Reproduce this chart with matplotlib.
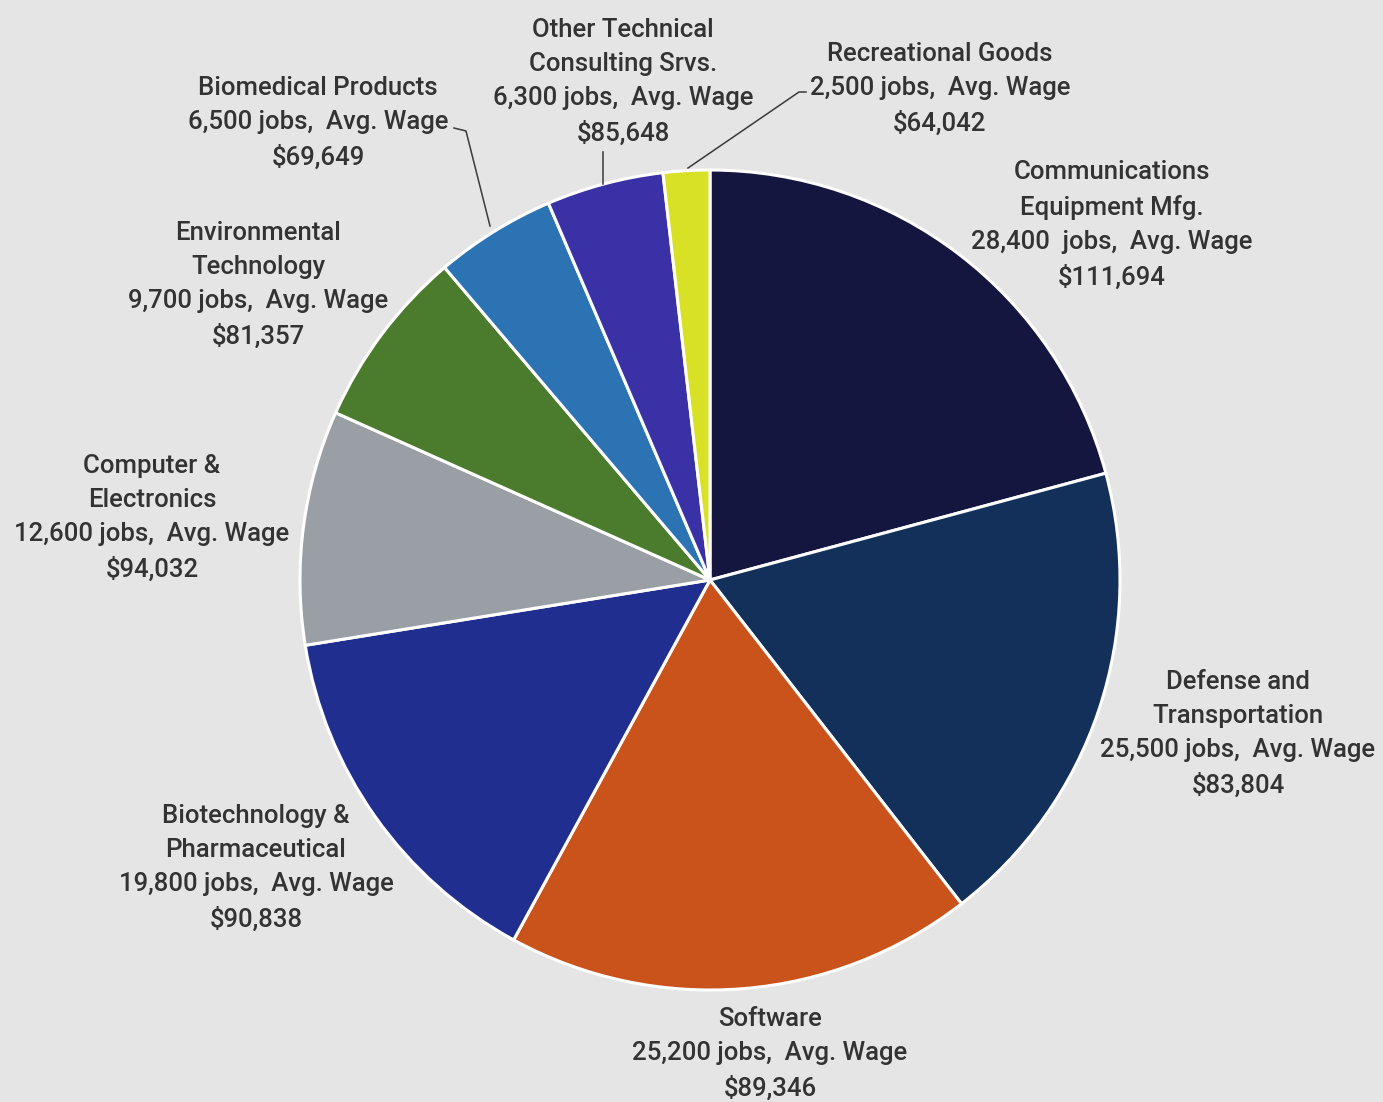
import matplotlib.pyplot as plt

# Job counts by industry cluster, clockwise from 12 o'clock
industries = [
    "Communications\nEquipment Mfg.",
    "Defense and\nTransportation",
    "Software",
    "Biotechnology &\nPharmaceutical",
    "Computer &\nElectronics",
    "Environmental\nTechnology",
    "Biomedical Products",
    "Other Technical\nConsulting Srvs.",
    "Recreational Goods",
]
jobs = [28400, 25500, 25200, 19800, 12600, 9700, 6500, 6300, 2500]
jobs_text = ["28,400  jobs,  Avg. Wage", "25,500 jobs,  Avg. Wage", "25,200 jobs,  Avg. Wage",
             "19,800 jobs,  Avg. Wage", "12,600 jobs,  Avg. Wage", "9,700 jobs,  Avg. Wage",
             "6,500 jobs,  Avg. Wage", "6,300 jobs,  Avg. Wage", "2,500 jobs,  Avg. Wage"]
avg_wage = ["$111,694", "$83,804", "$89,346", "$90,838", "$94,032", "$81,357",
            "$69,649", "$85,648", "$64,042"]

colors = ["#15163f", "#12305a", "#c9531b", "#1f2e8f", "#9a9ea5",
          "#4b7b2c", "#2b73b3", "#3a31a6", "#d8e126"]

BG = "#e5e5e5"
TXT = "#333333"

fig = plt.figure(figsize=(13.83, 11.02), dpi=100, facecolor=BG)
cx, cy, r = 710, 580, 410
W, H = 1383, 1102
ax = fig.add_axes([(cx - r) / W, (H - cy - r) / H, 2 * r / W, 2 * r / H])
ax.set_facecolor(BG)


def px(xp, yp):
    """Figure pixel position -> pie data units."""
    return ((xp - cx) / r, (cy - yp) / r)


# label block centres, in figure pixels
label_px = [
    (1112, 225), (1238, 734), (770, 1054), (256, 868),
    (152, 518), (258, 285), (318, 123), (623, 82), (940, 89),
]

ax.pie(jobs, colors=colors, startangle=90, counterclock=False, radius=1.0,
       wedgeprops=dict(edgecolor="white", linewidth=2.2))
ax.set_xlim(-1, 1)
ax.set_ylim(-1, 1)
ax.set_aspect("equal")
ax.axis("off")

for name, jt, wage, p in zip(industries, jobs_text, avg_wage, label_px):
    x, y = px(*p)
    ax.text(x, y, f"{name}\n{jt}\n{wage}", ha="center", va="center",
            fontsize=18.5, family="Roboto", fontweight="medium", color=TXT,
            linespacing=1.53, clip_on=False)

# leader lines for the thin slices
leaders = [
    [px(454, 128), px(466, 131), px(490, 226)],
    [px(603, 152), px(603, 184)],
    [px(806, 92), px(799, 92), px(688, 168)],
]
for pts in leaders:
    xs, ys = zip(*pts)
    ax.plot(xs, ys, color="#3a3a3a", linewidth=1.1, clip_on=False)

fig.savefig("out.png", dpi=100, facecolor=BG)
